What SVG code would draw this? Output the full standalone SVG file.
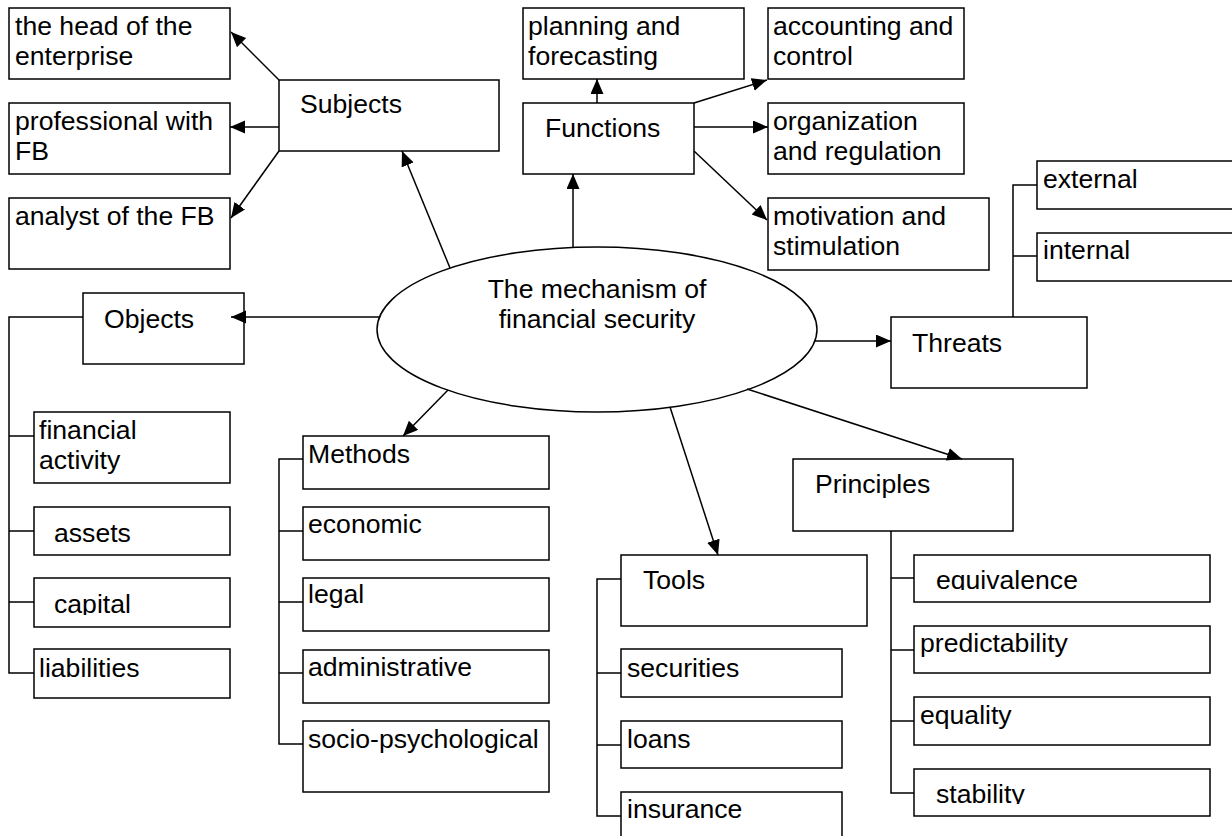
<svg xmlns="http://www.w3.org/2000/svg" width="1232" height="836" viewBox="0 0 1232 836">
<style>
.b{fill:#fff;stroke:#000;stroke-width:1.5}
.t{font-family:"Liberation Sans",Arial,sans-serif;font-size:26.6px;fill:#000}
.c{fill:none;stroke:#000;stroke-width:1.5}
</style>
<defs>
<marker id="ah" markerUnits="userSpaceOnUse" markerWidth="16" markerHeight="14" refX="15" refY="6.5" orient="auto">
<path d="M0,0 L15,6.5 L0,13 z" fill="#000"/>
</marker>
<clipPath id="clipCap"><rect x="30" y="570" width="210" height="45"/></clipPath>
<clipPath id="clipEq"><rect x="910" y="550" width="300" height="40"/></clipPath>
<clipPath id="clipSt"><rect x="910" y="765" width="300" height="39"/></clipPath>
</defs>
<rect width="1232" height="836" fill="#fff"/>

<g id="center">
<ellipse cx="597" cy="329.5" rx="220" ry="82.5" fill="#fff" stroke="#000" stroke-width="1.5"/>
<text class="t" x="597" y="298" text-anchor="middle">The mechanism of</text>
<text class="t" x="597" y="328" text-anchor="middle">financial security</text>
</g>

<g id="subjects"><rect class="b" x="279" y="80" width="220" height="71"/><text class="t" x="300" y="113">Subjects</text></g>
<g id="head"><rect class="b" x="9" y="8" width="221" height="71"/><text class="t" x="15" y="35">the head of the</text><text class="t" x="15" y="65">enterprise</text></g>
<g id="professional"><rect class="b" x="9" y="103" width="221" height="71"/><text class="t" x="15" y="130">professional with</text><text class="t" x="15" y="160">FB</text></g>
<g id="analyst"><rect class="b" x="9" y="198" width="221" height="71"/><text class="t" x="15" y="225">analyst of the FB</text></g>

<g id="functions"><rect class="b" x="523" y="103" width="171" height="71"/><text class="t" x="545" y="137">Functions</text></g>
<g id="planning"><rect class="b" x="523" y="8" width="221" height="71"/><text class="t" x="528" y="35">planning and</text><text class="t" x="528" y="65">forecasting</text></g>
<g id="accounting"><rect class="b" x="768" y="8" width="196" height="71"/><text class="t" x="773" y="35">accounting and</text><text class="t" x="773" y="65">control</text></g>
<g id="organization"><rect class="b" x="768" y="103" width="196" height="71"/><text class="t" x="773" y="130">organization</text><text class="t" x="773" y="160">and regulation</text></g>
<g id="motivation"><rect class="b" x="768" y="198" width="221" height="72"/><text class="t" x="773" y="225">motivation and</text><text class="t" x="773" y="255">stimulation</text></g>

<g id="threats"><rect class="b" x="891" y="317" width="196" height="71"/><text class="t" x="912" y="352">Threats</text></g>
<g id="external"><rect class="b" x="1037" y="161" width="205" height="48"/><text class="t" x="1043" y="188">external</text></g>
<g id="internal"><rect class="b" x="1037" y="233" width="205" height="48"/><text class="t" x="1043" y="259">internal</text></g>

<g id="objects"><rect class="b" x="83" y="293" width="161" height="71"/><text class="t" x="104" y="328">Objects</text></g>
<g id="financial-activity"><rect class="b" x="34" y="412" width="196" height="71"/><text class="t" x="39" y="439">financial</text><text class="t" x="39" y="469">activity</text></g>
<g id="assets"><rect class="b" x="34" y="507" width="196" height="48"/><text class="t" x="54" y="542">assets</text></g>
<g id="capital"><rect class="b" x="34" y="578" width="196" height="49"/><text class="t" x="54" y="613" clip-path="url(#clipCap)">capital</text></g>
<g id="liabilities"><rect class="b" x="34" y="649" width="196" height="49"/><text class="t" x="39" y="677">liabilities</text></g>

<g id="methods"><rect class="b" x="303" y="436" width="246" height="53"/><text class="t" x="308" y="463">Methods</text></g>
<g id="economic"><rect class="b" x="303" y="507" width="246" height="53"/><text class="t" x="308" y="533">economic</text></g>
<g id="legal"><rect class="b" x="303" y="578" width="246" height="53"/><text class="t" x="308" y="603">legal</text></g>
<g id="administrative"><rect class="b" x="303" y="650" width="246" height="53"/><text class="t" x="308" y="676">administrative</text></g>
<g id="socio"><rect class="b" x="303" y="721" width="246" height="71"/><text class="t" x="308" y="748">socio-psychological</text></g>

<g id="tools"><rect class="b" x="621" y="555" width="246" height="71"/><text class="t" x="643" y="589">Tools</text></g>
<g id="securities"><rect class="b" x="621" y="649" width="221" height="48"/><text class="t" x="627" y="677">securities</text></g>
<g id="loans"><rect class="b" x="621" y="721" width="221" height="47"/><text class="t" x="627" y="748">loans</text></g>
<g id="insurance"><rect class="b" x="621" y="792" width="221" height="60"/><text class="t" x="627" y="818">insurance</text></g>

<g id="principles"><rect class="b" x="793" y="459" width="220" height="72"/><text class="t" x="815" y="493">Principles</text></g>
<g id="equivalence"><rect class="b" x="914" y="555" width="296" height="47"/><text class="t" x="936" y="589" clip-path="url(#clipEq)">equivalence</text></g>
<g id="predictability"><rect class="b" x="914" y="626" width="296" height="47"/><text class="t" x="920" y="652">predictability</text></g>
<g id="equality"><rect class="b" x="914" y="697" width="296" height="48"/><text class="t" x="920" y="724">equality</text></g>
<g id="stability"><rect class="b" x="914" y="769" width="296" height="47"/><text class="t" x="936" y="803" clip-path="url(#clipSt)">stability</text></g>

<g id="connectors">
<path class="c" d="M450,268 L402,151" marker-end="url(#ah)"/>
<path class="c" d="M279,80 L231,32" marker-end="url(#ah)"/>
<path class="c" d="M279,127 L230,127" marker-end="url(#ah)"/>
<path class="c" d="M279,151 L231,218" marker-end="url(#ah)"/>
<path class="c" d="M573,247 L573,174" marker-end="url(#ah)"/>
<path class="c" d="M597,103 L597,79" marker-end="url(#ah)"/>
<path class="c" d="M694,103 L767,80" marker-end="url(#ah)"/>
<path class="c" d="M694,127 L768,127" marker-end="url(#ah)"/>
<path class="c" d="M694,151 L767,220" marker-end="url(#ah)"/>
<path class="c" d="M815,341 L891,341" marker-end="url(#ah)"/>
<path class="c" d="M379,317 L231,317" marker-end="url(#ah)"/>
<path class="c" d="M448,390 L403,436" marker-end="url(#ah)"/>
<path class="c" d="M670,407 L718,555" marker-end="url(#ah)"/>
<path class="c" d="M747,389 L962,459" marker-end="url(#ah)"/>
<path class="c" d="M83,317 H9 V673 H34 M9,436 H34 M9,531 H34 M9,602 H34"/>
<path class="c" d="M303,459 H279 V744 H303 M279,531 H303 M279,602 H303 M279,673 H303"/>
<path class="c" d="M621,579 H597 V816 H621 M597,673 H621 M597,745 H621"/>
<path class="c" d="M891,531 V793 H914 M891,578 H914 M891,650 H914 M891,721 H914"/>
<path class="c" d="M1013,317 V185 H1037 M1013,256 H1037"/>
</g>
</svg>
